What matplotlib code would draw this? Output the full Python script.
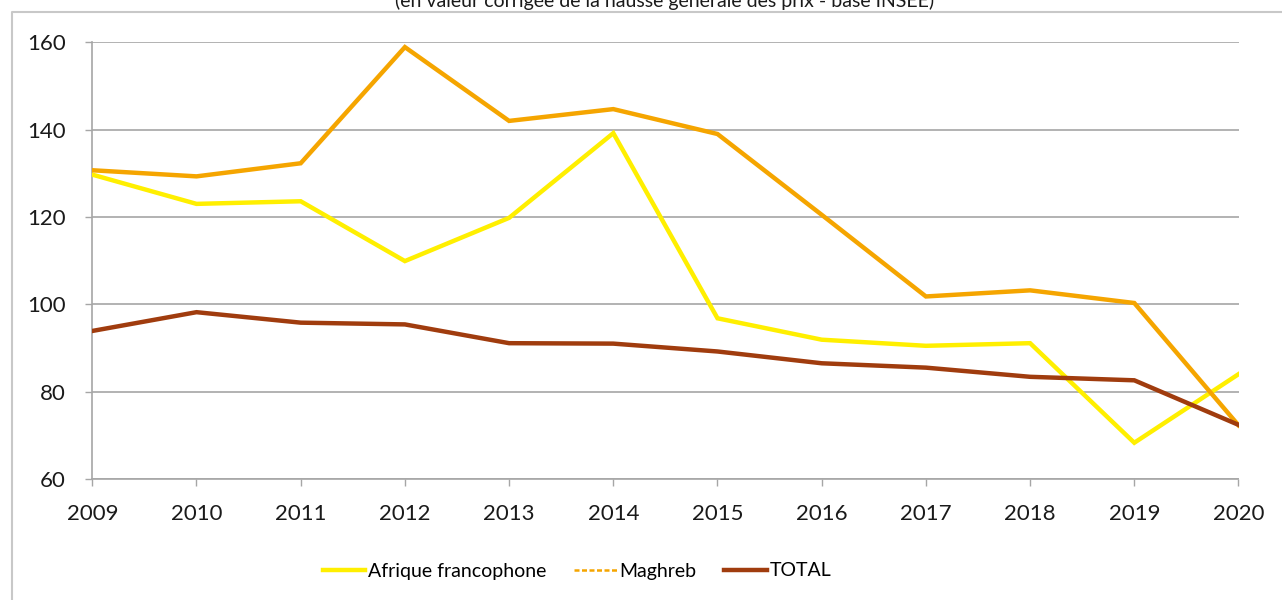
import numpy as np
import matplotlib
matplotlib.use("Agg")
import matplotlib.pyplot as plt
from matplotlib.lines import Line2D

# values
years = [2009, 2010, 2011, 2012, 2013, 2014, 2015, 2016, 2017, 2018, 2019, 2020]
afrique = [129.7, 123.0, 123.6, 109.9, 119.8, 139.2, 96.8, 91.9, 90.5, 91.1, 68.3, 84.0]
maghreb = [130.7, 129.3, 132.3, 158.9, 142.0, 144.7, 139.0, 120.5, 101.8, 103.2, 100.3, 72.3]
total = [93.9, 98.2, 95.8, 95.4, 91.1, 91.0, 89.2, 86.5, 85.5, 83.4, 82.6, 72.4]
yticks = [60, 80, 100, 120, 140, 160]
title = "(en valeur corrigée de la hausse générale des prix - base INSEE)"

plt.rcParams['font.family'] = ['Lato', 'DejaVu Sans']

c_afr = '#ffef00'
c_mag = '#f5a500'
c_tot = '#a03c0e'
grid_c = '#a6a6a6'

W, H = 1282, 600
fig = plt.figure(figsize=(W / 100, H / 100), dpi=100)
ax = fig.add_axes([92.3 / W, 1 - 479 / H, (1238.5 - 92.3) / W, (479 - 42.3) / H])

ax.plot(years, afrique, color=c_afr, lw=3.2, solid_joinstyle='miter', zorder=3)
ax.plot(years, maghreb, color=c_mag, lw=3.2, solid_joinstyle='miter', zorder=3)
ax.plot(years, total, color=c_tot, lw=3.2, solid_joinstyle='miter', zorder=4)

ax.set_xlim(years[0], years[-1])
ax.set_ylim(yticks[0], yticks[-1])
ax.set_yticks(yticks)
ax.set_xticks(years)
ax.grid(axis='y', color=grid_c, lw=1.2, zorder=1)
ax.set_axisbelow(True)

for s in ['top', 'right']:
    ax.spines[s].set_visible(False)
ax.spines['left'].set_color(grid_c)
ax.spines['bottom'].set_color(grid_c)
ax.spines['left'].set_linewidth(1.2)
ax.spines['bottom'].set_linewidth(1.2)
ax.tick_params(axis='both', colors=grid_c, length=5, width=1, labelcolor='#1a1a1a',
               labelsize=16)
ax.tick_params(axis='x', pad=13)
ax.tick_params(axis='y', pad=14)

# legend
handles = [
    Line2D([], [], color=c_afr, lw=3.2),
    Line2D([], [], color=c_mag, lw=1.8, dashes=(2, 1)),
    Line2D([], [], color=c_tot, lw=3.2),
]
fig.legend(handles, ['Afrique francophone', 'Maghreb', 'TOTAL'], loc='center',
           bbox_to_anchor=(577 / W, 1 - 571 / H), ncol=3, frameon=False,
           fontsize=14, handlelength=2.2, handletextpad=0.15, columnspacing=1.4)

# outer chart frame (top and left edges visible)
fig.add_artist(Line2D([12 / W, 12 / W, 1.0], [0.0, 1 - 12 / H, 1 - 12 / H],
                      color='#c8c8c8', lw=1.5, transform=fig.transFigure))

# title, cut off at the top of the image
fig.text(665 / W, 1 - 7 / H, title, ha='center', va='baseline', fontsize=14,
         color='#1a1a1a')

fig.savefig('out.png', dpi=100, facecolor='white')
